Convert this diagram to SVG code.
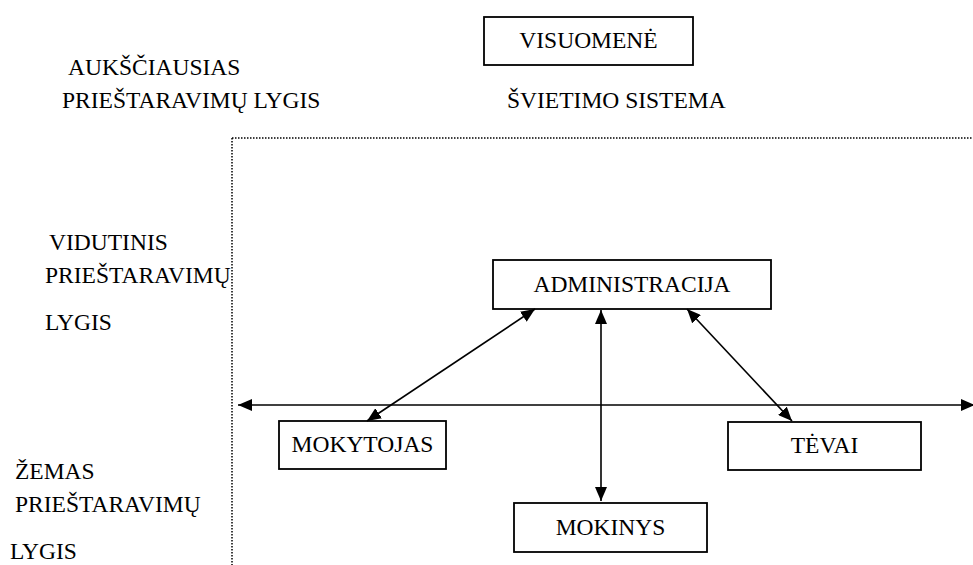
<svg xmlns="http://www.w3.org/2000/svg" width="973" height="565" viewBox="0 0 973 565">
<defs>
<style>
text{font-family:"Liberation Serif","Times New Roman",serif;font-size:23.5px;fill:#000}
.box{fill:#fff;stroke:#000;stroke-width:1.8}
.c{text-anchor:middle}
.conn{stroke:#000;stroke-width:1.6;fill:none}
.dot{stroke:#000;stroke-width:1.5;stroke-dasharray:1.5 1.5;fill:none}
</style>
<marker id="ah" viewBox="0 0 14 12" refX="14" refY="6" markerWidth="14" markerHeight="12" markerUnits="userSpaceOnUse" orient="auto-start-reverse">
<path d="M0,0 L14,6 L0,12 Z" fill="#000"/>
</marker>
</defs>
<rect width="973" height="565" fill="#fff"/>
<g id="labels">
<text x="68" y="75">AUKŠČIAUSIAS</text>
<text x="62" y="108">PRIEŠTARAVIMŲ LYGIS</text>
<text x="507" y="108">ŠVIETIMO SISTEMA</text>
<text x="49" y="250">VIDUTINIS</text>
<text x="45" y="283">PRIEŠTARAVIMŲ</text>
<text x="45" y="330">LYGIS</text>
<text x="15" y="479">ŽEMAS</text>
<text x="15" y="512">PRIEŠTARAVIMŲ</text>
<text x="10" y="559">LYGIS</text>
</g>
<g id="boundary">
<path class="dot" d="M232,138 H973 M232,138 V565"/>
</g>
<g id="visuomene">
<rect class="box" x="484" y="17" width="209" height="48"/>
<text class="c" x="588.5" y="48">VISUOMENĖ</text>
</g>
<g id="administracija">
<rect class="box" x="493" y="260" width="278" height="49"/>
<text class="c" x="632" y="292">ADMINISTRACIJA</text>
</g>
<g id="mokytojas">
<rect class="box" x="279" y="421" width="167" height="48"/>
<text class="c" x="362.5" y="452">MOKYTOJAS</text>
</g>
<g id="tevai">
<rect class="box" x="728" y="422" width="193" height="48"/>
<text class="c" x="824.5" y="453">TĖVAI</text>
</g>
<g id="mokinys">
<rect class="box" x="514" y="503" width="193" height="49"/>
<text class="c" x="610.5" y="535">MOKINYS</text>
</g>
<g id="connectors">
<line class="conn" x1="238" y1="405" x2="975" y2="405" marker-start="url(#ah)" marker-end="url(#ah)"/>
<line class="conn" x1="601" y1="310" x2="601" y2="501" marker-start="url(#ah)" marker-end="url(#ah)"/>
<line class="conn" x1="535" y1="309" x2="367" y2="421" marker-start="url(#ah)" marker-end="url(#ah)"/>
<line class="conn" x1="687" y1="309" x2="792" y2="421" marker-start="url(#ah)" marker-end="url(#ah)"/>
</g>
</svg>
